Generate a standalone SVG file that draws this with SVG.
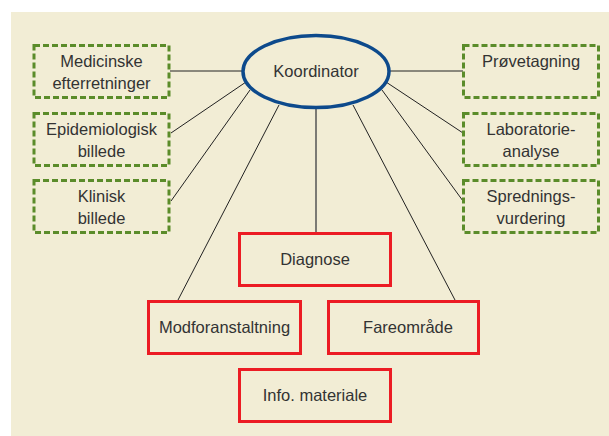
<svg xmlns="http://www.w3.org/2000/svg" width="609" height="436" viewBox="0 0 609 436">
<style>
.bg{fill:#f2edd5}
.g{fill:none;stroke:#5b8c2a;stroke-width:3;stroke-dasharray:6 3}
.r{fill:none;stroke:#ec1c24;stroke-width:3}
.e{fill:none;stroke:#0d4a8c;stroke-width:3.5}
.t{font-family:"Liberation Sans",Arial,sans-serif;font-size:16.5px;fill:#333;text-anchor:middle}
.c line{stroke:#222;stroke-width:1}
</style>
<rect class="bg" x="11" y="12" width="598" height="424"/>
<g id="connectors" class="c">
<line x1="170" y1="71" x2="242" y2="71"/>
<line x1="389" y1="71" x2="463" y2="71"/>
<line x1="246" y1="82" x2="171" y2="133"/>
<line x1="250" y1="90" x2="171" y2="201"/>
<line x1="279" y1="105" x2="178" y2="300"/>
<line x1="316" y1="108" x2="316" y2="233" style="stroke:#555;stroke-width:1.5"/>
<line x1="353" y1="105" x2="455" y2="300"/>
<line x1="386" y1="82" x2="463" y2="133"/>
<line x1="382" y1="90" x2="463" y2="201"/>
</g>
<g id="koordinator">
<ellipse class="e" cx="316" cy="71.5" rx="73" ry="36"/>
<text class="t" x="316" y="77">Koordinator</text>
</g>
<g id="medicinske">
<rect class="g" x="34" y="45.5" width="135" height="52"/>
<text class="t" x="101.5" y="67">Medicinske</text>
<text class="t" x="101.5" y="89">efterretninger</text>
</g>
<g id="epidemiologisk">
<rect class="g" x="34" y="113.5" width="135" height="52"/>
<text class="t" x="101.5" y="135">Epidemiologisk</text>
<text class="t" x="101.5" y="157">billede</text>
</g>
<g id="klinisk">
<rect class="g" x="34" y="180.5" width="135" height="52"/>
<text class="t" x="101.5" y="202">Klinisk</text>
<text class="t" x="101.5" y="224">billede</text>
</g>
<g id="proevetagning">
<rect class="g" x="463.5" y="45.5" width="135" height="52"/>
<text class="t" x="531" y="67">Prøvetagning</text>
</g>
<g id="laboratorie">
<rect class="g" x="463.5" y="113.5" width="135" height="52"/>
<text class="t" x="531" y="135">Laboratorie-</text>
<text class="t" x="531" y="157">analyse</text>
</g>
<g id="spredning">
<rect class="g" x="463.5" y="180.5" width="135" height="52"/>
<text class="t" x="531" y="202">Sprednings-</text>
<text class="t" x="531" y="224">vurdering</text>
</g>
<g id="diagnose">
<rect class="r" x="239.5" y="233.5" width="151" height="52"/>
<text class="t" x="315" y="265">Diagnose</text>
</g>
<g id="modforanstaltning">
<rect class="r" x="148.5" y="301.5" width="152" height="52"/>
<text class="t" x="224.5" y="333">Modforanstaltning</text>
</g>
<g id="fareomraade">
<rect class="r" x="328.5" y="301.5" width="150" height="52"/>
<text class="t" x="408" y="333">Fareområde</text>
</g>
<g id="info">
<rect class="r" x="239.5" y="369.5" width="151" height="52"/>
<text class="t" x="315" y="401">Info. materiale</text>
</g>
</svg>
